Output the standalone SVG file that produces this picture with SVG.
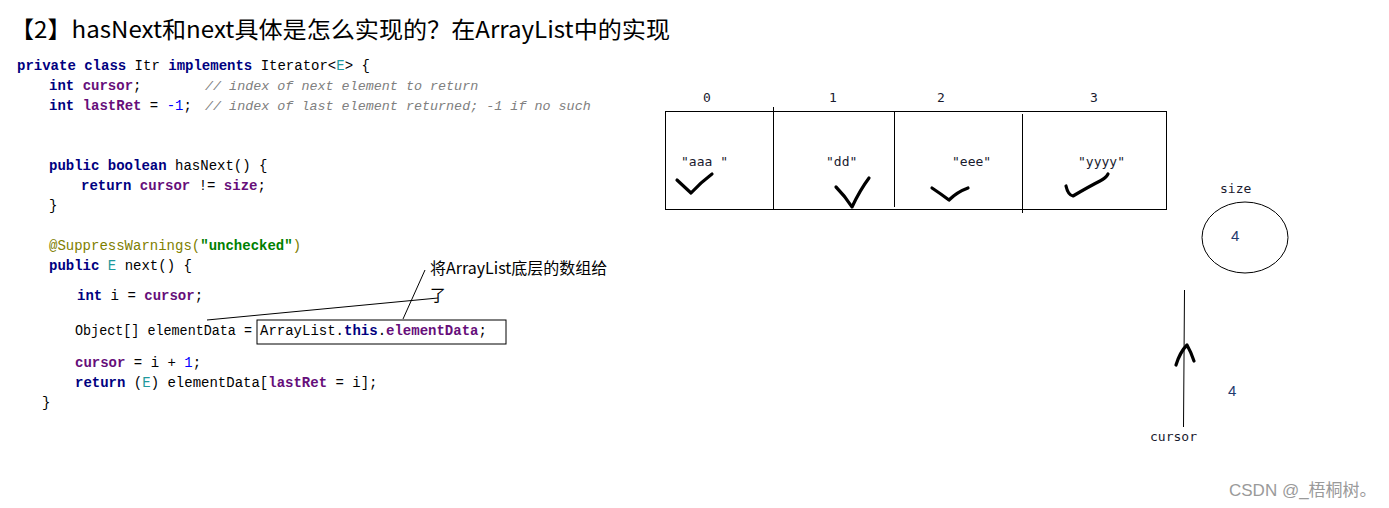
<svg xmlns="http://www.w3.org/2000/svg" width="1389" height="508" viewBox="0 0 1389 508">
<style>
.code{font-family:"Liberation Mono","DejaVu Sans Mono",monospace;font-size:14px;fill:#000}
.kw{fill:#000080;font-weight:bold}
.fld{fill:#660E7A;font-weight:bold}
.cm{fill:#808080;font-style:italic;font-size:13.4px}
.num{fill:#0000FF}
.ty{fill:#20999D}
.ann{fill:#808000}
.str{fill:#008000;font-weight:bold}
.mono{font-family:"DejaVu Sans Mono","Liberation Mono",monospace;font-size:13px;fill:#1a1a2e}
.cjk{font-family:"Noto Sans CJK SC","Noto Sans",sans-serif;fill:#000}
.ln{stroke:#000;stroke-width:1;fill:none}
.chk{stroke:#000;stroke-width:3.2;fill:none;stroke-linecap:round;stroke-linejoin:round}
.dig{font-family:"Liberation Sans",sans-serif;font-size:15px;fill:#1f3a6e}
</style>
<rect width="1389" height="508" fill="#fff"/>
<text class="cjk" x="10" y="38" font-size="23" textLength="660" lengthAdjust="spacingAndGlyphs">【2】hasNext和next具体是怎么实现的？在ArrayList中的实现</text>

<g id="code">
<text class="code" x="17" y="70"><tspan class="kw">private class</tspan> Itr <tspan class="kw">implements</tspan> Iterator&lt;<tspan class="ty">E</tspan>&gt; {</text>
<text class="code" x="49" y="90"><tspan class="kw">int</tspan> <tspan class="fld">cursor</tspan>;</text>
<text class="code cm" x="205" y="90">// index of next element to return</text>
<text class="code" x="49" y="110"><tspan class="kw">int</tspan> <tspan class="fld">lastRet</tspan> = <tspan class="num">-1</tspan>;</text>
<text class="code cm" x="205" y="110">// index of last element returned; -1 if no such</text>
<text class="code" x="49" y="170"><tspan class="kw">public boolean</tspan> hasNext() {</text>
<text class="code" x="81" y="190"><tspan class="kw">return</tspan> <tspan class="fld">cursor</tspan> != <tspan class="fld">size</tspan>;</text>
<text class="code" x="49" y="210">}</text>
<text class="code" x="49" y="250"><tspan class="ann">@SuppressWarnings(</tspan><tspan class="str">"unchecked"</tspan><tspan class="ann">)</tspan></text>
<text class="code" x="49" y="270"><tspan class="kw">public</tspan> <tspan class="ty">E</tspan> next() {</text>
<text class="code" x="77" y="300"><tspan class="kw">int</tspan> i = <tspan class="fld">cursor</tspan>;</text>
<text class="code" x="75" y="335" textLength="177" lengthAdjust="spacingAndGlyphs">Object[] elementData =</text>
<text class="code" x="260" y="335">ArrayList.<tspan class="kw">this</tspan>.<tspan class="fld">elementData</tspan>;</text>
<text class="code" x="75" y="367"><tspan class="fld">cursor</tspan> = i + <tspan class="num">1</tspan>;</text>
<text class="code" x="75" y="387"><tspan class="kw">return</tspan> (<tspan class="ty">E</tspan>) elementData[<tspan class="fld">lastRet</tspan> = i];</text>
<text class="code" x="42" y="407">}</text>
<rect x="257" y="320" width="249" height="24" class="ln"/>
</g>

<g id="annotation">
<text class="cjk" x="430" y="274" font-size="16">将ArrayList底层的数组给</text>
<text class="cjk" x="430" y="301" font-size="16">了</text>
</g>

<g id="array">
<rect x="665.5" y="111.5" width="501" height="98" class="ln"/>
<line x1="773.5" y1="107" x2="773.5" y2="209" class="ln"/>
<line x1="894.5" y1="111" x2="894.5" y2="207" class="ln"/>
<line x1="1022.5" y1="114" x2="1022.5" y2="213" class="ln"/>
<text class="mono" x="703" y="102">0</text>
<text class="mono" x="829" y="102">1</text>
<text class="mono" x="937" y="102">2</text>
<text class="mono" x="1090" y="102">3</text>
<text class="mono" x="681" y="166" font-size="14">"aaa  "</text>
<text class="mono" x="826" y="166" font-size="14">"dd"</text>
<text class="mono" x="952" y="166" font-size="14">"eee"</text>
<text class="mono" x="1078" y="166" font-size="14">"yyyy"</text>
<path class="chk" d="M677,180 L691,193 Q700,183 712,174"/>
<path class="chk" d="M836,187 Q845,196 852,207 Q860,190 869,178"/>
<path class="chk" d="M932,188 Q941,194 949,200 Q957,192 968,188"/>
<path class="chk" d="M1066,186 Q1068,195 1073,196 Q1090,186 1100,181 Q1106,178 1108,174"/>
</g>

<g id="size">
<text class="mono" x="1220" y="193" font-size="14">size</text>
<ellipse cx="1245" cy="237.5" rx="43" ry="35.5" class="ln"/>
<text class="dig" x="1231" y="241">4</text>
</g>

<g id="cursor">
<line x1="1184.5" y1="290" x2="1183.5" y2="427" class="ln"/>
<path class="chk" d="M1176,365 Q1180,352 1187,345 Q1191,352 1194,361"/>
<text class="dig" x="1228" y="396">4</text>
<text class="mono" x="1150" y="441" font-size="14">cursor</text>
</g>

<g id="connectors">
<line x1="207" y1="320" x2="438" y2="298" class="ln"/>
<line x1="403" y1="319" x2="425" y2="270" class="ln"/>
</g>

<text x="1229" y="496" font-family="Liberation Sans,sans-serif" font-size="17" fill="#9a9a9a">CSDN @_<tspan font-family="Noto Sans CJK SC,sans-serif">梧桐树。</tspan></text>
</svg>
